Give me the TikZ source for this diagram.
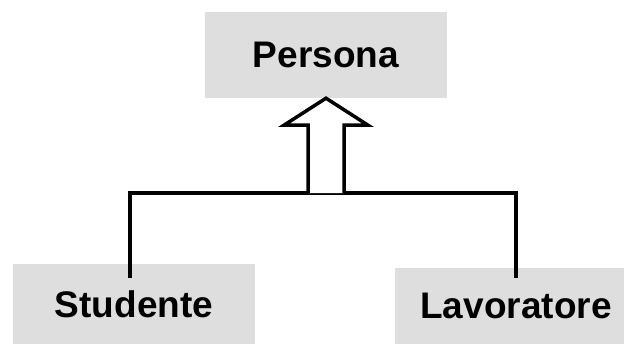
\documentclass[tikz,border=0pt]{standalone}
\usepackage{fontspec}
\setmainfont{Liberation Sans}
\usetikzlibrary{calc}
\definecolor{boxgray}{HTML}{DEDEDE}

\begin{document}
\begin{tikzpicture}[x=1pt, y=-1pt,
  class/.style={fill=boxgray, minimum width=242pt, inner sep=0pt, font=\fontsize{37}{37}\selectfont\bfseries},
  link/.style={line width=3.5pt},
  hollow/.style={line width=3.5pt, line join=miter, fill=white}]
\useasboundingbox (0,0) rectangle (624,345);
\clip (0,0) rectangle (624,345);
\node[class, minimum height=86pt] (persona) at (326,55) {Persona};
\node[class, minimum height=80pt] (studente) at (134,304) {Studente};
\node[class, minimum height=76pt] (lavoratore) at (516,306) {Lavoratore};
\coordinate (fork) at ($(persona.south)+(0,95)$);
% fork line down to the two subclasses
\draw[link] ([xshift=-4pt,yshift=-14pt]studente.north) |- (fork) -| ([yshift=-10pt]lavoratore.north);
% hollow arrow up to the superclass
\draw[hollow] ($(fork)+(-18,0)$) -- ++(0,-68) -- ++(-24,0) -- (persona.south)
  -- ++(42,27) -- ++(-24,0) -- ($(fork)+(18,0)$);
\end{tikzpicture}
\end{document}
